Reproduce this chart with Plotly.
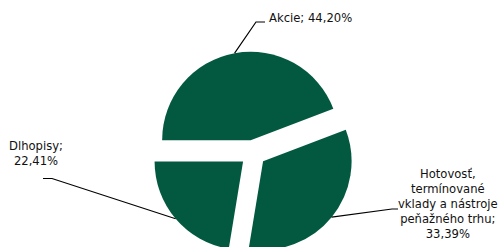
import math
import plotly.graph_objects as go

# ---- data ----
labels = ["Akcie", "Hotovosť, termínované vklady a nástroje peňažného trhu", "Dlhopisy"]
values = [44.20, 33.39, 22.41]
label_texts = [
    "Akcie; 44,20%",
    "Hotovosť,<br>termínované<br>vklady a nástroje<br>peňažného trhu;<br>33,39%",
    "Dlhopisy;<br>22,41%",
]

# ---- layout geometry (pixels) ----
W, H = 503, 256
GREEN = "#02593F"
CX, CY = 253, 153          # pie centre
R = 88.5                   # slice radius
PULL = 0.147
ROT = 270                  # first slice starts at 9 o'clock

box = 2 * R * (1 + PULL)


def px(x):
    return x / W


def py(y):
    return 1 - y / H


fig = go.Figure(go.Pie(
    labels=labels,
    values=values,
    sort=False,
    direction="clockwise",
    rotation=ROT,
    pull=[PULL] * len(values),
    marker=dict(colors=[GREEN] * len(values), line=dict(width=0)),
    textinfo="none",
    hoverinfo="label+percent",
    showlegend=False,
    domain=dict(x=[px(CX - box / 2), px(CX + box / 2)],
                y=[max(0, py(CY + box / 2)), py(CY - box / 2)]),
))

# leader-line anchors computed from slice mid-angles
total = sum(values)
start = ROT
anchors = []
for v in values:
    span = 360 * v / total
    mid = math.radians(start + span / 2)
    ox = CX + PULL * R * math.sin(mid)
    oy = CY - PULL * R * math.cos(mid)
    anchors.append((ox + R * math.sin(mid), oy - R * math.cos(mid)))
    start += span

# label positions / elbows (pixels)
label_pos = [(267, 17.5, "left"), (448, 204, "center"), (36, 153, "center")]
elbows = [((256, 22), (265, 22)), ((392, 209), (398, 209)), ((52, 178.5), (43, 178.5))]

shapes = []
annotations = []
for (ax, ay), (e1, e2), (tx, ty, anc), txt in zip(anchors, elbows, label_pos, label_texts):
    path = f"M {px(ax)} {py(ay)} L {px(e1[0])} {py(e1[1])} L {px(e2[0])} {py(e2[1])}"
    shapes.append(dict(type="path", xref="paper", yref="paper", path=path,
                       line=dict(color="#000000", width=1.2)))
    annotations.append(dict(x=px(tx), y=py(ty), xref="paper", yref="paper",
                            text=txt, showarrow=False, xanchor=anc, yanchor="middle",
                            align="center",
                            font=dict(family="DejaVu Sans", size=11.6, color="#111111")))

fig.update_layout(
    width=W, height=H,
    margin=dict(l=0, r=0, t=0, b=0),
    paper_bgcolor="white", plot_bgcolor="white",
    shapes=shapes, annotations=annotations,
)

fig.write_html("out.html", config={"displayModeBar": False},
               post_script="document.body.style.overflow='hidden';document.body.style.margin='0';")
